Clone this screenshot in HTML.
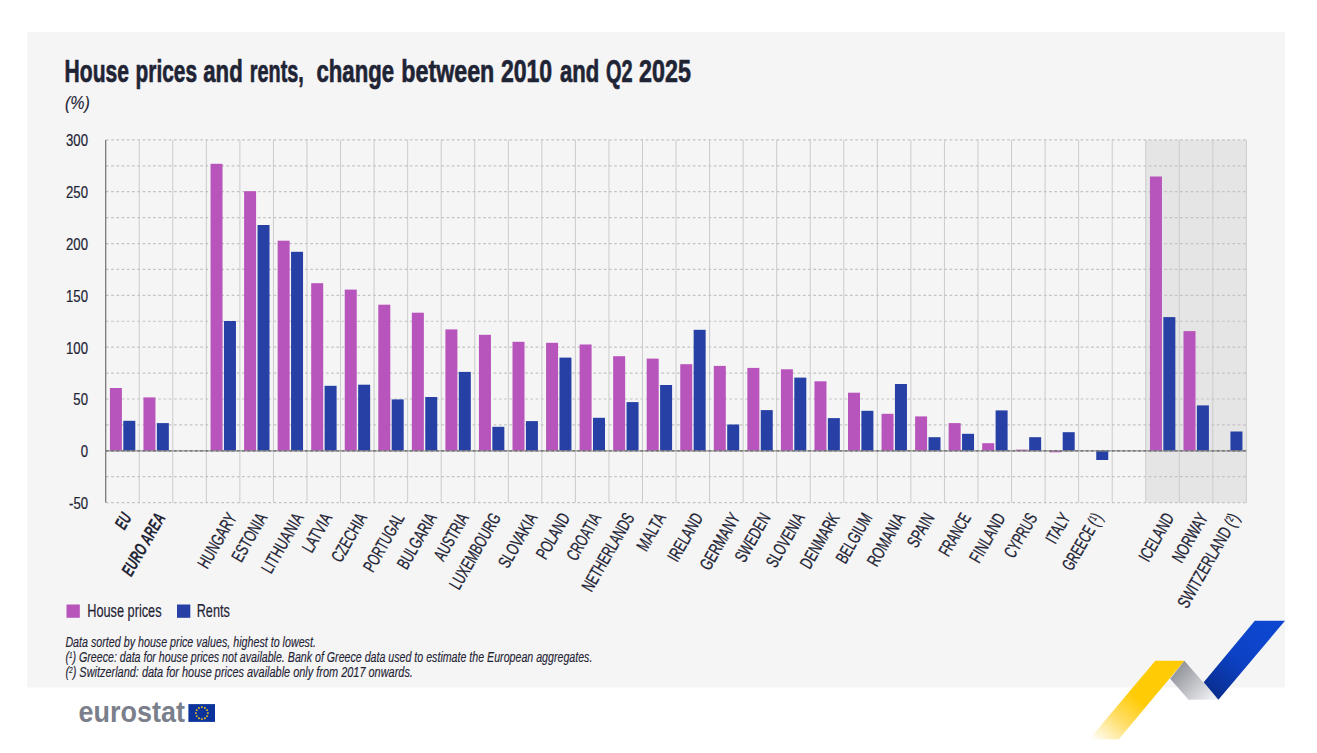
<!DOCTYPE html>
<html><head><meta charset="utf-8"><title>House prices and rents</title>
<style>html,body{margin:0;padding:0;background:#fff;}svg{display:block;}text{font-family:"Liberation Sans",sans-serif;stroke-linejoin:round;}</style>
</head><body>
<svg width="1317" height="753" viewBox="0 0 1317 753">
<defs>
<linearGradient id="gy" gradientUnits="userSpaceOnUse" x1="1136" y1="697" x2="1097" y2="744"><stop offset="0" stop-color="#ffcb05"/><stop offset="0.45" stop-color="#ffdd66"/><stop offset="1" stop-color="#ffffff"/></linearGradient>
<linearGradient id="gb" gradientUnits="userSpaceOnUse" x1="1265" y1="625" x2="1210" y2="695"><stop offset="0" stop-color="#0d47d0"/><stop offset="0.5" stop-color="#0c41c4"/><stop offset="1" stop-color="#0a2d8c"/></linearGradient>
<linearGradient id="gg" gradientUnits="userSpaceOnUse" x1="1176" y1="668" x2="1210" y2="700"><stop offset="0" stop-color="#8f9299"/><stop offset="1" stop-color="#eeeff1"/></linearGradient>
</defs>
<rect x="27.1" y="31.8" width="1257.9" height="655.7" fill="#f5f5f5"/>
<rect x="1145.75" y="139.90" width="100.65" height="362.70" fill="#e5e5e5"/>
<line x1="139.25" y1="139.90" x2="139.25" y2="502.60" stroke="#cbcbcb" stroke-width="1"/>
<line x1="172.80" y1="139.90" x2="172.80" y2="502.60" stroke="#cbcbcb" stroke-width="1"/>
<line x1="206.35" y1="139.90" x2="206.35" y2="502.60" stroke="#cbcbcb" stroke-width="1"/>
<line x1="239.90" y1="139.90" x2="239.90" y2="502.60" stroke="#cbcbcb" stroke-width="1"/>
<line x1="273.45" y1="139.90" x2="273.45" y2="502.60" stroke="#cbcbcb" stroke-width="1"/>
<line x1="307.00" y1="139.90" x2="307.00" y2="502.60" stroke="#cbcbcb" stroke-width="1"/>
<line x1="340.55" y1="139.90" x2="340.55" y2="502.60" stroke="#cbcbcb" stroke-width="1"/>
<line x1="374.10" y1="139.90" x2="374.10" y2="502.60" stroke="#cbcbcb" stroke-width="1"/>
<line x1="407.65" y1="139.90" x2="407.65" y2="502.60" stroke="#cbcbcb" stroke-width="1"/>
<line x1="441.20" y1="139.90" x2="441.20" y2="502.60" stroke="#cbcbcb" stroke-width="1"/>
<line x1="474.75" y1="139.90" x2="474.75" y2="502.60" stroke="#cbcbcb" stroke-width="1"/>
<line x1="508.30" y1="139.90" x2="508.30" y2="502.60" stroke="#cbcbcb" stroke-width="1"/>
<line x1="541.85" y1="139.90" x2="541.85" y2="502.60" stroke="#cbcbcb" stroke-width="1"/>
<line x1="575.40" y1="139.90" x2="575.40" y2="502.60" stroke="#cbcbcb" stroke-width="1"/>
<line x1="608.95" y1="139.90" x2="608.95" y2="502.60" stroke="#cbcbcb" stroke-width="1"/>
<line x1="642.50" y1="139.90" x2="642.50" y2="502.60" stroke="#cbcbcb" stroke-width="1"/>
<line x1="676.05" y1="139.90" x2="676.05" y2="502.60" stroke="#cbcbcb" stroke-width="1"/>
<line x1="709.60" y1="139.90" x2="709.60" y2="502.60" stroke="#cbcbcb" stroke-width="1"/>
<line x1="743.15" y1="139.90" x2="743.15" y2="502.60" stroke="#cbcbcb" stroke-width="1"/>
<line x1="776.70" y1="139.90" x2="776.70" y2="502.60" stroke="#cbcbcb" stroke-width="1"/>
<line x1="810.25" y1="139.90" x2="810.25" y2="502.60" stroke="#cbcbcb" stroke-width="1"/>
<line x1="843.80" y1="139.90" x2="843.80" y2="502.60" stroke="#cbcbcb" stroke-width="1"/>
<line x1="877.35" y1="139.90" x2="877.35" y2="502.60" stroke="#cbcbcb" stroke-width="1"/>
<line x1="910.90" y1="139.90" x2="910.90" y2="502.60" stroke="#cbcbcb" stroke-width="1"/>
<line x1="944.45" y1="139.90" x2="944.45" y2="502.60" stroke="#cbcbcb" stroke-width="1"/>
<line x1="978.00" y1="139.90" x2="978.00" y2="502.60" stroke="#cbcbcb" stroke-width="1"/>
<line x1="1011.55" y1="139.90" x2="1011.55" y2="502.60" stroke="#cbcbcb" stroke-width="1"/>
<line x1="1045.10" y1="139.90" x2="1045.10" y2="502.60" stroke="#cbcbcb" stroke-width="1"/>
<line x1="1078.65" y1="139.90" x2="1078.65" y2="502.60" stroke="#cbcbcb" stroke-width="1"/>
<line x1="1112.20" y1="139.90" x2="1112.20" y2="502.60" stroke="#cbcbcb" stroke-width="1"/>
<line x1="1145.75" y1="139.90" x2="1145.75" y2="502.60" stroke="#cbcbcb" stroke-width="1"/>
<line x1="1179.30" y1="139.90" x2="1179.30" y2="502.60" stroke="#cbcbcb" stroke-width="1"/>
<line x1="1212.85" y1="139.90" x2="1212.85" y2="502.60" stroke="#cbcbcb" stroke-width="1"/>
<line x1="1246.40" y1="139.90" x2="1246.40" y2="502.60" stroke="#cbcbcb" stroke-width="1"/>
<line x1="105.70" y1="139.90" x2="1246.40" y2="139.90" stroke="#c3c3c3" stroke-width="1.2" stroke-dasharray="2.7 2.54" stroke-dashoffset="-0.2"/>
<line x1="105.70" y1="165.81" x2="1246.40" y2="165.81" stroke="#c3c3c3" stroke-width="1.2" stroke-dasharray="2.7 2.54" stroke-dashoffset="-0.2"/>
<line x1="105.70" y1="191.72" x2="1246.40" y2="191.72" stroke="#c3c3c3" stroke-width="1.2" stroke-dasharray="2.7 2.54" stroke-dashoffset="-0.2"/>
<line x1="105.70" y1="217.62" x2="1246.40" y2="217.62" stroke="#c3c3c3" stroke-width="1.2" stroke-dasharray="2.7 2.54" stroke-dashoffset="-0.2"/>
<line x1="105.70" y1="243.53" x2="1246.40" y2="243.53" stroke="#c3c3c3" stroke-width="1.2" stroke-dasharray="2.7 2.54" stroke-dashoffset="-0.2"/>
<line x1="105.70" y1="269.44" x2="1246.40" y2="269.44" stroke="#c3c3c3" stroke-width="1.2" stroke-dasharray="2.7 2.54" stroke-dashoffset="-0.2"/>
<line x1="105.70" y1="295.35" x2="1246.40" y2="295.35" stroke="#c3c3c3" stroke-width="1.2" stroke-dasharray="2.7 2.54" stroke-dashoffset="-0.2"/>
<line x1="105.70" y1="321.26" x2="1246.40" y2="321.26" stroke="#c3c3c3" stroke-width="1.2" stroke-dasharray="2.7 2.54" stroke-dashoffset="-0.2"/>
<line x1="105.70" y1="347.17" x2="1246.40" y2="347.17" stroke="#c3c3c3" stroke-width="1.2" stroke-dasharray="2.7 2.54" stroke-dashoffset="-0.2"/>
<line x1="105.70" y1="373.07" x2="1246.40" y2="373.07" stroke="#c3c3c3" stroke-width="1.2" stroke-dasharray="2.7 2.54" stroke-dashoffset="-0.2"/>
<line x1="105.70" y1="398.98" x2="1246.40" y2="398.98" stroke="#c3c3c3" stroke-width="1.2" stroke-dasharray="2.7 2.54" stroke-dashoffset="-0.2"/>
<line x1="105.70" y1="424.89" x2="1246.40" y2="424.89" stroke="#c3c3c3" stroke-width="1.2" stroke-dasharray="2.7 2.54" stroke-dashoffset="-0.2"/>
<line x1="105.70" y1="476.71" x2="1246.40" y2="476.71" stroke="#c3c3c3" stroke-width="1.2" stroke-dasharray="2.7 2.54" stroke-dashoffset="-0.2"/>
<line x1="105.70" y1="502.62" x2="1246.40" y2="502.62" stroke="#c3c3c3" stroke-width="1.2" stroke-dasharray="2.7 2.54" stroke-dashoffset="-0.2"/>
<rect x="109.90" y="388.00" width="12.0" height="63.15" fill="#b855bc"/>
<rect x="123.30" y="420.80" width="12.0" height="30.35" fill="#2740a6"/>
<rect x="143.45" y="397.40" width="12.0" height="53.75" fill="#b855bc"/>
<rect x="156.85" y="423.10" width="12.0" height="28.05" fill="#2740a6"/>
<rect x="210.55" y="163.80" width="12.0" height="287.35" fill="#b855bc"/>
<rect x="223.95" y="321.00" width="12.0" height="130.15" fill="#2740a6"/>
<rect x="244.10" y="191.20" width="12.0" height="259.95" fill="#b855bc"/>
<rect x="257.50" y="225.00" width="12.0" height="226.15" fill="#2740a6"/>
<rect x="277.65" y="240.70" width="12.0" height="210.45" fill="#b855bc"/>
<rect x="291.05" y="251.80" width="12.0" height="199.35" fill="#2740a6"/>
<rect x="311.20" y="283.20" width="12.0" height="167.95" fill="#b855bc"/>
<rect x="324.60" y="385.80" width="12.0" height="65.35" fill="#2740a6"/>
<rect x="344.75" y="289.60" width="12.0" height="161.55" fill="#b855bc"/>
<rect x="358.15" y="384.70" width="12.0" height="66.45" fill="#2740a6"/>
<rect x="378.30" y="304.70" width="12.0" height="146.45" fill="#b855bc"/>
<rect x="391.70" y="399.40" width="12.0" height="51.75" fill="#2740a6"/>
<rect x="411.85" y="312.70" width="12.0" height="138.45" fill="#b855bc"/>
<rect x="425.25" y="397.00" width="12.0" height="54.15" fill="#2740a6"/>
<rect x="445.40" y="329.40" width="12.0" height="121.75" fill="#b855bc"/>
<rect x="458.80" y="371.90" width="12.0" height="79.25" fill="#2740a6"/>
<rect x="478.95" y="334.80" width="12.0" height="116.35" fill="#b855bc"/>
<rect x="492.35" y="426.80" width="12.0" height="24.35" fill="#2740a6"/>
<rect x="512.50" y="341.80" width="12.0" height="109.35" fill="#b855bc"/>
<rect x="525.90" y="421.10" width="12.0" height="30.05" fill="#2740a6"/>
<rect x="546.05" y="342.80" width="12.0" height="108.35" fill="#b855bc"/>
<rect x="559.45" y="357.60" width="12.0" height="93.55" fill="#2740a6"/>
<rect x="579.60" y="344.50" width="12.0" height="106.65" fill="#b855bc"/>
<rect x="593.00" y="417.80" width="12.0" height="33.35" fill="#2740a6"/>
<rect x="613.15" y="356.20" width="12.0" height="94.95" fill="#b855bc"/>
<rect x="626.55" y="402.10" width="12.0" height="49.05" fill="#2740a6"/>
<rect x="646.70" y="358.60" width="12.0" height="92.55" fill="#b855bc"/>
<rect x="660.10" y="385.00" width="12.0" height="66.15" fill="#2740a6"/>
<rect x="680.25" y="364.20" width="12.0" height="86.95" fill="#b855bc"/>
<rect x="693.65" y="329.80" width="12.0" height="121.35" fill="#2740a6"/>
<rect x="713.80" y="365.90" width="12.0" height="85.25" fill="#b855bc"/>
<rect x="727.20" y="424.50" width="12.0" height="26.65" fill="#2740a6"/>
<rect x="747.35" y="367.90" width="12.0" height="83.25" fill="#b855bc"/>
<rect x="760.75" y="410.10" width="12.0" height="41.05" fill="#2740a6"/>
<rect x="780.90" y="369.30" width="12.0" height="81.85" fill="#b855bc"/>
<rect x="794.30" y="377.60" width="12.0" height="73.55" fill="#2740a6"/>
<rect x="814.45" y="381.30" width="12.0" height="69.85" fill="#b855bc"/>
<rect x="827.85" y="418.10" width="12.0" height="33.05" fill="#2740a6"/>
<rect x="848.00" y="392.70" width="12.0" height="58.45" fill="#b855bc"/>
<rect x="861.40" y="410.80" width="12.0" height="40.35" fill="#2740a6"/>
<rect x="881.55" y="413.80" width="12.0" height="37.35" fill="#b855bc"/>
<rect x="894.95" y="384.00" width="12.0" height="67.15" fill="#2740a6"/>
<rect x="915.10" y="416.40" width="12.0" height="34.75" fill="#b855bc"/>
<rect x="928.50" y="437.20" width="12.0" height="13.95" fill="#2740a6"/>
<rect x="948.65" y="423.10" width="12.0" height="28.05" fill="#b855bc"/>
<rect x="962.05" y="433.80" width="12.0" height="17.35" fill="#2740a6"/>
<rect x="982.20" y="443.20" width="12.0" height="7.95" fill="#b855bc"/>
<rect x="995.60" y="410.40" width="12.0" height="40.75" fill="#2740a6"/>
<rect x="1015.75" y="449.60" width="12.0" height="1.55" fill="#b855bc"/>
<rect x="1029.15" y="437.20" width="12.0" height="13.95" fill="#2740a6"/>
<rect x="1049.30" y="450.45" width="12.0" height="1.85" fill="#b855bc"/>
<rect x="1062.70" y="432.20" width="12.0" height="18.95" fill="#2740a6"/>
<rect x="1096.25" y="450.45" width="12.0" height="9.55" fill="#2740a6"/>
<rect x="1149.95" y="176.50" width="12.0" height="274.65" fill="#b855bc"/>
<rect x="1163.35" y="317.10" width="12.0" height="134.05" fill="#2740a6"/>
<rect x="1183.50" y="331.10" width="12.0" height="120.05" fill="#b855bc"/>
<rect x="1196.90" y="405.40" width="12.0" height="45.75" fill="#2740a6"/>
<rect x="1230.45" y="431.50" width="12.0" height="19.65" fill="#2740a6"/>
<line x1="105.70" y1="450.80" x2="1246.40" y2="450.80" stroke="#929292" stroke-width="1.2"/>
<line x1="105.70" y1="450.80" x2="1246.40" y2="450.80" stroke="#6c6c6c" stroke-width="1.2" stroke-dasharray="2.7 2.54" stroke-dashoffset="-0.2"/>
<line x1="105.70" y1="139.90" x2="105.70" y2="502.60" stroke="#747474" stroke-width="1.25"/>
<text transform="translate(88,146.40) scale(0.76,1)" text-anchor="end" font-size="17.3" fill="#1f2435" stroke="#1f2435" stroke-width="0.2" vector-effect="non-scaling-stroke">300</text>
<text transform="translate(88,198.22) scale(0.76,1)" text-anchor="end" font-size="17.3" fill="#1f2435" stroke="#1f2435" stroke-width="0.2" vector-effect="non-scaling-stroke">250</text>
<text transform="translate(88,250.03) scale(0.76,1)" text-anchor="end" font-size="17.3" fill="#1f2435" stroke="#1f2435" stroke-width="0.2" vector-effect="non-scaling-stroke">200</text>
<text transform="translate(88,301.85) scale(0.76,1)" text-anchor="end" font-size="17.3" fill="#1f2435" stroke="#1f2435" stroke-width="0.2" vector-effect="non-scaling-stroke">150</text>
<text transform="translate(88,353.67) scale(0.76,1)" text-anchor="end" font-size="17.3" fill="#1f2435" stroke="#1f2435" stroke-width="0.2" vector-effect="non-scaling-stroke">100</text>
<text transform="translate(88,405.48) scale(0.76,1)" text-anchor="end" font-size="17.3" fill="#1f2435" stroke="#1f2435" stroke-width="0.2" vector-effect="non-scaling-stroke">50</text>
<text transform="translate(88,457.30) scale(0.76,1)" text-anchor="end" font-size="17.3" fill="#1f2435" stroke="#1f2435" stroke-width="0.2" vector-effect="non-scaling-stroke">0</text>
<text transform="translate(88,509.12) scale(0.76,1)" text-anchor="end" font-size="17.3" fill="#1f2435" stroke="#1f2435" stroke-width="0.2" vector-effect="non-scaling-stroke">-50</text>
<text class="xl" transform="translate(132.17,517.5) rotate(-60) scale(0.6160,1)" text-anchor="end" font-size="17.8" fill="#1f2435" stroke="#1f2435" stroke-width="0.15" vector-effect="non-scaling-stroke" font-weight="bold" font-style="italic">EU</text>
<text class="xl" transform="translate(165.83,517.5) rotate(-60) scale(0.6524,1)" text-anchor="end" font-size="17.8" fill="#1f2435" stroke="#1f2435" stroke-width="0.15" vector-effect="non-scaling-stroke" font-weight="bold" font-style="italic">EURO AREA</text>
<text class="xl" transform="translate(237.43,517.5) rotate(-60) scale(0.6800,1)" text-anchor="end" font-size="17.8" fill="#1f2435" stroke="#1f2435" stroke-width="0.25" vector-effect="non-scaling-stroke">HUNGARY</text>
<text class="xl" transform="translate(267.68,517.5) rotate(-60) scale(0.6800,1)" text-anchor="end" font-size="17.8" fill="#1f2435" stroke="#1f2435" stroke-width="0.25" vector-effect="non-scaling-stroke">ESTONIA</text>
<text class="xl" transform="translate(304.12,517.5) rotate(-60) scale(0.7118,1)" text-anchor="end" font-size="17.8" fill="#1f2435" stroke="#1f2435" stroke-width="0.25" vector-effect="non-scaling-stroke">LITHUANIA</text>
<text class="xl" transform="translate(332.77,517.5) rotate(-60) scale(0.7037,1)" text-anchor="end" font-size="17.8" fill="#1f2435" stroke="#1f2435" stroke-width="0.25" vector-effect="non-scaling-stroke">LATVIA</text>
<text class="xl" transform="translate(367.62,517.5) rotate(-60) scale(0.6800,1)" text-anchor="end" font-size="17.8" fill="#1f2435" stroke="#1f2435" stroke-width="0.25" vector-effect="non-scaling-stroke">CZECHIA</text>
<text class="xl" transform="translate(405.07,517.5) rotate(-60) scale(0.6595,1)" text-anchor="end" font-size="17.8" fill="#1f2435" stroke="#1f2435" stroke-width="0.25" vector-effect="non-scaling-stroke">PORTUGAL</text>
<text class="xl" transform="translate(437.32,517.5) rotate(-60) scale(0.6800,1)" text-anchor="end" font-size="17.8" fill="#1f2435" stroke="#1f2435" stroke-width="0.25" vector-effect="non-scaling-stroke">BULGARIA</text>
<text class="xl" transform="translate(469.27,517.5) rotate(-60) scale(0.6695,1)" text-anchor="end" font-size="17.8" fill="#1f2435" stroke="#1f2435" stroke-width="0.25" vector-effect="non-scaling-stroke">AUSTRIA</text>
<text class="xl" transform="translate(501.43,517.5) rotate(-60) scale(0.6698,1)" text-anchor="end" font-size="17.8" fill="#1f2435" stroke="#1f2435" stroke-width="0.25" vector-effect="non-scaling-stroke">LUXEMBOURG</text>
<text class="xl" transform="translate(537.87,517.5) rotate(-60) scale(0.6910,1)" text-anchor="end" font-size="17.8" fill="#1f2435" stroke="#1f2435" stroke-width="0.25" vector-effect="non-scaling-stroke">SLOVAKIA</text>
<text class="xl" transform="translate(570.52,517.5) rotate(-60) scale(0.6800,1)" text-anchor="end" font-size="17.8" fill="#1f2435" stroke="#1f2435" stroke-width="0.25" vector-effect="non-scaling-stroke">POLAND</text>
<text class="xl" transform="translate(601.77,517.5) rotate(-60) scale(0.6597,1)" text-anchor="end" font-size="17.8" fill="#1f2435" stroke="#1f2435" stroke-width="0.25" vector-effect="non-scaling-stroke">CROATIA</text>
<text class="xl" transform="translate(634.92,517.5) rotate(-60) scale(0.6572,1)" text-anchor="end" font-size="17.8" fill="#1f2435" stroke="#1f2435" stroke-width="0.25" vector-effect="non-scaling-stroke">NETHERLANDS</text>
<text class="xl" transform="translate(666.37,517.5) rotate(-60) scale(0.7114,1)" text-anchor="end" font-size="17.8" fill="#1f2435" stroke="#1f2435" stroke-width="0.25" vector-effect="non-scaling-stroke">MALTA</text>
<text class="xl" transform="translate(703.52,517.5) rotate(-60) scale(0.6800,1)" text-anchor="end" font-size="17.8" fill="#1f2435" stroke="#1f2435" stroke-width="0.25" vector-effect="non-scaling-stroke">IRELAND</text>
<text class="xl" transform="translate(740.57,517.5) rotate(-60) scale(0.6935,1)" text-anchor="end" font-size="17.8" fill="#1f2435" stroke="#1f2435" stroke-width="0.25" vector-effect="non-scaling-stroke">GERMANY</text>
<text class="xl" transform="translate(771.02,517.5) rotate(-60) scale(0.6800,1)" text-anchor="end" font-size="17.8" fill="#1f2435" stroke="#1f2435" stroke-width="0.25" vector-effect="non-scaling-stroke">SWEDEN</text>
<text class="xl" transform="translate(805.17,517.5) rotate(-60) scale(0.6642,1)" text-anchor="end" font-size="17.8" fill="#1f2435" stroke="#1f2435" stroke-width="0.25" vector-effect="non-scaling-stroke">SLOVENIA</text>
<text class="xl" transform="translate(840.12,517.5) rotate(-60) scale(0.6800,1)" text-anchor="end" font-size="17.8" fill="#1f2435" stroke="#1f2435" stroke-width="0.25" vector-effect="non-scaling-stroke">DENMARK</text>
<text class="xl" transform="translate(872.77,517.5) rotate(-60) scale(0.6800,1)" text-anchor="end" font-size="17.8" fill="#1f2435" stroke="#1f2435" stroke-width="0.25" vector-effect="non-scaling-stroke">BELGIUM</text>
<text class="xl" transform="translate(905.72,517.5) rotate(-60) scale(0.6982,1)" text-anchor="end" font-size="17.8" fill="#1f2435" stroke="#1f2435" stroke-width="0.25" vector-effect="non-scaling-stroke">ROMANIA</text>
<text class="xl" transform="translate(934.87,517.5) rotate(-60) scale(0.6961,1)" text-anchor="end" font-size="17.8" fill="#1f2435" stroke="#1f2435" stroke-width="0.25" vector-effect="non-scaling-stroke">SPAIN</text>
<text class="xl" transform="translate(971.52,517.5) rotate(-60) scale(0.6320,1)" text-anchor="end" font-size="17.8" fill="#1f2435" stroke="#1f2435" stroke-width="0.25" vector-effect="non-scaling-stroke">FRANCE</text>
<text class="xl" transform="translate(1005.97,517.5) rotate(-60) scale(0.7081,1)" text-anchor="end" font-size="17.8" fill="#1f2435" stroke="#1f2435" stroke-width="0.25" vector-effect="non-scaling-stroke">FINLAND</text>
<text class="xl" transform="translate(1037.92,517.5) rotate(-60) scale(0.6505,1)" text-anchor="end" font-size="17.8" fill="#1f2435" stroke="#1f2435" stroke-width="0.25" vector-effect="non-scaling-stroke">CYPRUS</text>
<text class="xl" transform="translate(1071.08,517.5) rotate(-60) scale(0.6800,1)" text-anchor="end" font-size="17.8" fill="#1f2435" stroke="#1f2435" stroke-width="0.25" vector-effect="non-scaling-stroke">ITALY</text>
<text class="xl" transform="translate(1103.22,517.5) rotate(-60) scale(0.6408,1)" text-anchor="end" font-size="17.8" fill="#1f2435" stroke="#1f2435" stroke-width="0.25" vector-effect="non-scaling-stroke">GREECE (<tspan font-size="10.7" dy="-5">1</tspan><tspan dy="5">)</tspan></text>
<text class="xl" transform="translate(1174.62,517.5) rotate(-60) scale(0.6800,1)" text-anchor="end" font-size="17.8" fill="#1f2435" stroke="#1f2435" stroke-width="0.25" vector-effect="non-scaling-stroke">ICELAND</text>
<text class="xl" transform="translate(1208.58,517.5) rotate(-60) scale(0.6922,1)" text-anchor="end" font-size="17.8" fill="#1f2435" stroke="#1f2435" stroke-width="0.25" vector-effect="non-scaling-stroke">NORWAY</text>
<text class="xl" transform="translate(1240.22,517.5) rotate(-60) scale(0.7064,1)" text-anchor="end" font-size="17.8" fill="#1f2435" stroke="#1f2435" stroke-width="0.25" vector-effect="non-scaling-stroke">SWITZERLAND (<tspan font-size="10.7" dy="-5">2</tspan><tspan dy="5">)</tspan></text>
<text x="64.6" y="81.7" font-size="31.7" font-weight="bold" fill="#1f2435" stroke="#1f2435" stroke-width="0.7" textLength="64.3" lengthAdjust="spacingAndGlyphs">House</text>
<text x="135.6" y="81.7" font-size="31.7" font-weight="bold" fill="#1f2435" stroke="#1f2435" stroke-width="0.7" textLength="61.4" lengthAdjust="spacingAndGlyphs">prices</text>
<text x="203.3" y="81.7" font-size="31.7" font-weight="bold" fill="#1f2435" stroke="#1f2435" stroke-width="0.7" textLength="39.4" lengthAdjust="spacingAndGlyphs">and</text>
<text x="249.8" y="81.7" font-size="31.7" font-weight="bold" fill="#1f2435" stroke="#1f2435" stroke-width="0.7" textLength="54.0" lengthAdjust="spacingAndGlyphs">rents,</text>
<text x="316.5" y="81.7" font-size="31.7" font-weight="bold" fill="#1f2435" stroke="#1f2435" stroke-width="0.7" textLength="77.6" lengthAdjust="spacingAndGlyphs">change</text>
<text x="401.3" y="81.7" font-size="31.7" font-weight="bold" fill="#1f2435" stroke="#1f2435" stroke-width="0.7" textLength="93.0" lengthAdjust="spacingAndGlyphs">between</text>
<text x="500.9" y="81.7" font-size="31.7" font-weight="bold" fill="#1f2435" stroke="#1f2435" stroke-width="0.7" textLength="51.3" lengthAdjust="spacingAndGlyphs">2010</text>
<text x="559.9" y="81.7" font-size="31.7" font-weight="bold" fill="#1f2435" stroke="#1f2435" stroke-width="0.7" textLength="39.3" lengthAdjust="spacingAndGlyphs">and</text>
<text x="605.9" y="81.7" font-size="31.7" font-weight="bold" fill="#1f2435" stroke="#1f2435" stroke-width="0.7" textLength="26.6" lengthAdjust="spacingAndGlyphs">Q2</text>
<text x="639.1" y="81.7" font-size="31.7" font-weight="bold" fill="#1f2435" stroke="#1f2435" stroke-width="0.7" textLength="51.8" lengthAdjust="spacingAndGlyphs">2025</text>
<text transform="translate(65,109.3) scale(0.9,1)" font-size="17.8" font-style="italic" fill="#1f2435" stroke="#1f2435" stroke-width="0.15" vector-effect="non-scaling-stroke">(%)</text>
<rect x="66.5" y="604.5" width="13.3" height="13.3" fill="#b855bc"/>
<text x="87.2" y="617.4" font-size="18.6" fill="#1f2435" stroke="#1f2435" stroke-width="0.2" textLength="74.4" lengthAdjust="spacingAndGlyphs">House prices</text>
<rect x="177" y="604.5" width="13.3" height="13.3" fill="#2740a6"/>
<text x="196.7" y="617.4" font-size="18.6" fill="#1f2435" stroke="#1f2435" stroke-width="0.2" textLength="33.2" lengthAdjust="spacingAndGlyphs">Rents</text>
<text x="65.4" y="647.1" font-size="14.2" font-style="italic" fill="#1f2435" stroke="#1f2435" stroke-width="0.15" textLength="250.5" lengthAdjust="spacingAndGlyphs">Data sorted by house price values, highest to lowest.</text>
<text x="65.4" y="662.2" font-size="14.2" font-style="italic" fill="#1f2435" stroke="#1f2435" stroke-width="0.15" textLength="527" lengthAdjust="spacingAndGlyphs">(<tspan font-size="8.5" dy="-4.5">1</tspan><tspan dy="4.5">) Greece: data for house prices not available. Bank of Greece data used to estimate the European aggregates.</tspan></text>
<text x="65.4" y="677.2" font-size="14.2" font-style="italic" fill="#1f2435" stroke="#1f2435" stroke-width="0.15" textLength="347.5" lengthAdjust="spacingAndGlyphs">(<tspan font-size="8.5" dy="-4.5">2</tspan><tspan dy="4.5">) Switzerland: data for house prices available only from 2017 onwards.</tspan></text>
<text x="78.5" y="721.9" font-size="28.6" font-weight="bold" fill="#7b7f8b" textLength="106.4" lengthAdjust="spacingAndGlyphs">eurostat</text>
<rect x="188.4" y="704.1" width="26.6" height="17.8" fill="#0c339c"/>
<circle cx="201.90" cy="707.10" r="0.95" fill="#f6c915"/>
<circle cx="204.90" cy="707.90" r="0.95" fill="#f6c915"/>
<circle cx="207.10" cy="710.10" r="0.95" fill="#f6c915"/>
<circle cx="207.90" cy="713.10" r="0.95" fill="#f6c915"/>
<circle cx="207.10" cy="716.10" r="0.95" fill="#f6c915"/>
<circle cx="204.90" cy="718.30" r="0.95" fill="#f6c915"/>
<circle cx="201.90" cy="719.10" r="0.95" fill="#f6c915"/>
<circle cx="198.90" cy="718.30" r="0.95" fill="#f6c915"/>
<circle cx="196.70" cy="716.10" r="0.95" fill="#f6c915"/>
<circle cx="195.90" cy="713.10" r="0.95" fill="#f6c915"/>
<circle cx="196.70" cy="710.10" r="0.95" fill="#f6c915"/>
<circle cx="198.90" cy="707.90" r="0.95" fill="#f6c915"/>
<polygon points="1155.3,660.7 1184.4,660.7 1118.6,739.5 1089,739.5" fill="url(#gy)"/>
<polygon points="1184.4,660.7 1218.4,699.7 1188.5,699.7 1170.2,678.7" fill="url(#gg)"/>
<polygon points="1254.8,620.8 1285,620.8 1218.4,699.7 1203.7,682.3" fill="url(#gb)"/>
</svg></body></html>
